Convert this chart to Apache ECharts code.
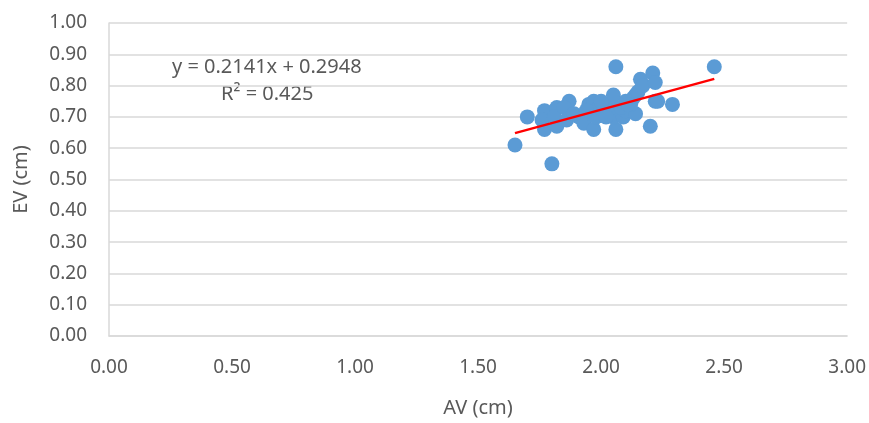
<!DOCTYPE html>
<html>
<head>
<meta charset="utf-8">
<script src="https://cdn.jsdelivr.net/npm/echarts@6/dist/echarts.min.js"></script>
<style>
  html, body { margin: 0; padding: 0; background: #fff; }
  #main { width: 869px; height: 423px; }
</style>
</head>
<body>
<div id="main"></div>
<script>
  // AV (cm) / EV (cm) 读图估计
  var avValues = [1.65, 1.70, 1.80, 1.77, 1.77, 1.76, 1.82, 1.82, 1.81, 1.87, 1.85, 1.86,
    1.91, 1.95, 1.93, 1.97, 1.97, 1.96, 1.98, 1.99, 2.01, 2.03, 2.05, 2.06, 2.06, 2.05,
    2.06, 2.09, 2.10, 2.10, 2.13, 2.14, 2.15, 2.14, 2.16, 2.17, 2.20, 2.21, 2.22, 2.22,
    2.23, 2.29, 2.46, 1.89, 2.00, 2.08, 2.12, 1.94, 2.02, 2.11];
  var evValues = [0.61, 0.70, 0.55, 0.72, 0.66, 0.69, 0.73, 0.67, 0.70, 0.75, 0.73, 0.69,
    0.70, 0.74, 0.68, 0.75, 0.66, 0.71, 0.70, 0.73, 0.72, 0.74, 0.77, 0.86, 0.66, 0.70,
    0.73, 0.70, 0.75, 0.72, 0.76, 0.77, 0.78, 0.71, 0.82, 0.80, 0.67, 0.84, 0.81, 0.75,
    0.75, 0.74, 0.86, 0.71, 0.75, 0.73, 0.74, 0.72, 0.70, 0.74];
  var slope = 0.2141;
  var intercept = 0.2948;
  var eqLabel = 'y = 0.2141x + 0.2948';
  var r2Label = 'R² = 0.425';

  var points = avValues.map(function (x, i) { return [x, evValues[i]]; });
  var xMin = Math.min.apply(null, avValues);
  var xMax = Math.max.apply(null, avValues);
  var trend = [[xMin, slope * xMin + intercept], [xMax, slope * xMax + intercept]];

  var font = "'Noto Sans', sans-serif";
  var myChart = echarts.init(document.getElementById('main'));
  var option = {
    animation: false,
    grid: { left: 109, right: 21, top: 23, bottom: 83 },
    xAxis: {
      type: 'value', min: 0, max: 3, interval: 0.5,
      name: 'AV (cm)', nameLocation: 'middle', nameGap: 62,
      nameTextStyle: { color: '#595959', fontSize: 20, fontFamily: font },
      axisLine: { show: true, lineStyle: { color: '#d9d9d9', width: 1.5 } },
      axisTick: { show: false },
      splitLine: { show: false },
      axisLabel: { color: '#595959', fontSize: 19, fontFamily: font, margin: 22,
        formatter: function (v) { return v.toFixed(2); } }
    },
    yAxis: {
      type: 'value', min: 0, max: 1, interval: 0.1,
      name: 'EV (cm)', nameLocation: 'middle', nameGap: 78,
      nameTextStyle: { color: '#595959', fontSize: 20, fontFamily: font },
      axisLine: { show: true, lineStyle: { color: '#d9d9d9', width: 1.5 } },
      axisTick: { show: false },
      splitLine: { lineStyle: { color: '#d9d9d9', width: 1.5 } },
      axisLabel: { color: '#595959', fontSize: 19, fontFamily: font, margin: 22,
        formatter: function (v) { return v.toFixed(2); } }
    },
    graphic: [
      { type: 'text', left: 172, top: 57, style: { text: eqLabel, fill: '#595959', font: '20px ' + font } },
      { type: 'text', left: 221, top: 84, style: { text: r2Label, fill: '#595959', font: '20px ' + font } }
    ],
    series: [
      {
        type: 'scatter', data: points, symbolSize: 15,
        itemStyle: { color: '#5b9bd5', opacity: 1 }
      },
      {
        type: 'line', data: trend, symbol: 'none',
        lineStyle: { color: '#ff0000', width: 2.5 }
      }
    ]
  };
  myChart.setOption(option);
</script>
</body>
</html>
